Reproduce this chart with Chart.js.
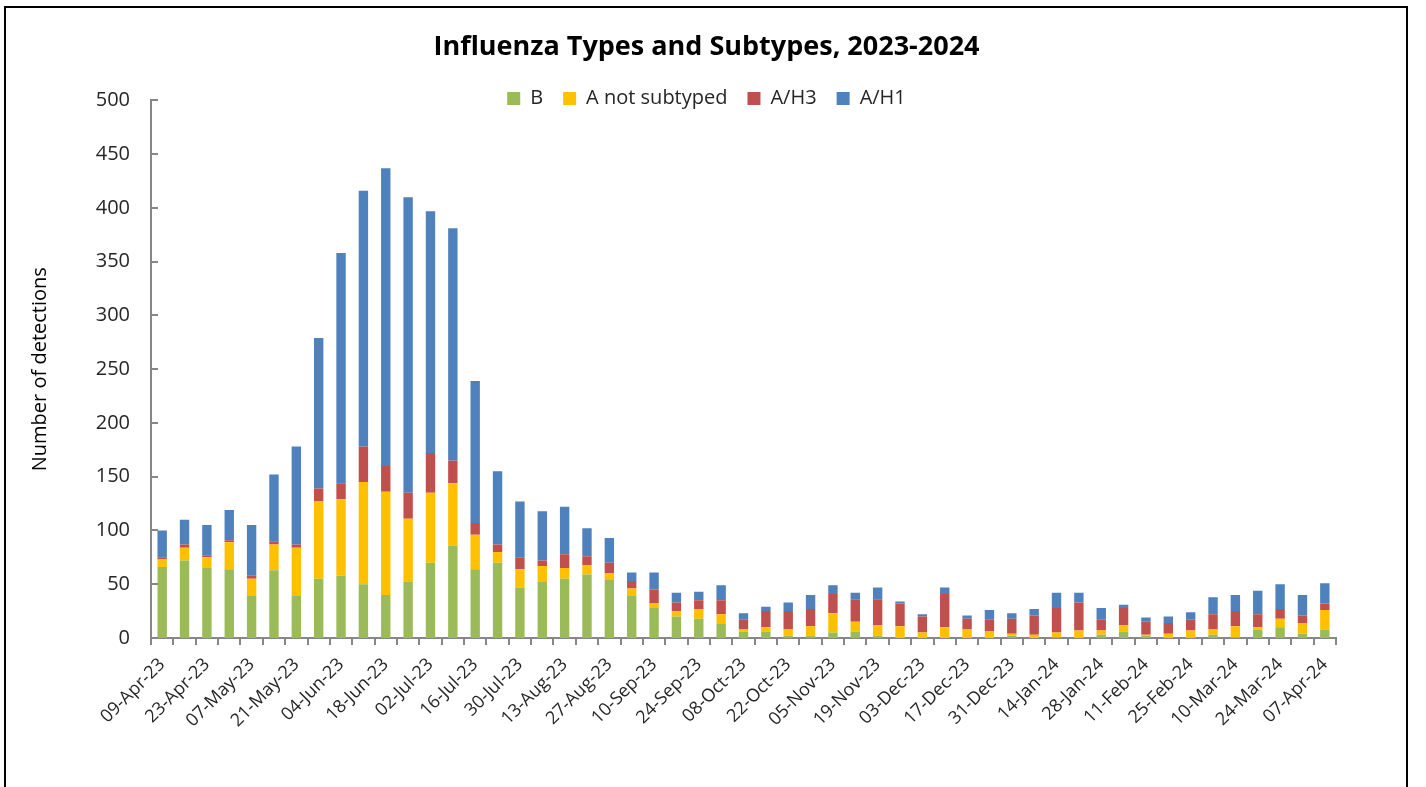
<!DOCTYPE html>
<html>
<head>
<meta charset="utf-8">
<title>Influenza Types and Subtypes, 2023-2024</title>
<script src="https://cdn.jsdelivr.net/npm/chart.js@4/dist/chart.umd.min.js"></script>
<style>
  html, body { margin: 0; padding: 0; background: #fff; }
  #wrap { position: relative; width: 1426px; height: 787px; overflow: hidden; }
  #frame {
    position: absolute; left: 4px; top: 6px; width: 1404px; height: 800px;
    border: 2px solid #000; box-sizing: border-box; pointer-events: none;
  }
  canvas { position: absolute; left: 0; top: 0; }
</style>
</head>
<body>
<div id="wrap">
  <canvas id="fluChart" width="1426" height="787"></canvas>
  <div id="frame"></div>
</div>
<script>
const weeks = [
  '09-Apr-23', '16-Apr-23', '23-Apr-23', '30-Apr-23', '07-May-23', '14-May-23', '21-May-23', '28-May-23',
  '04-Jun-23', '11-Jun-23', '18-Jun-23', '25-Jun-23', '02-Jul-23', '09-Jul-23', '16-Jul-23', '23-Jul-23',
  '30-Jul-23', '06-Aug-23', '13-Aug-23', '20-Aug-23', '27-Aug-23', '03-Sep-23', '10-Sep-23', '17-Sep-23',
  '24-Sep-23', '01-Oct-23', '08-Oct-23', '15-Oct-23', '22-Oct-23', '29-Oct-23', '05-Nov-23', '12-Nov-23',
  '19-Nov-23', '26-Nov-23', '03-Dec-23', '10-Dec-23', '17-Dec-23', '24-Dec-23', '31-Dec-23', '07-Jan-24',
  '14-Jan-24', '21-Jan-24', '28-Jan-24', '04-Feb-24', '11-Feb-24', '18-Feb-24', '25-Feb-24', '03-Mar-24',
  '10-Mar-24', '17-Mar-24', '24-Mar-24', '31-Mar-24', '07-Apr-24'
]

const fluB = [
  66, 72, 65, 64, 39, 63, 39, 55, 58, 50,
  40, 52, 70, 86, 64, 70, 47, 52, 55, 59,
  54, 39, 28, 20, 18, 13, 6, 6, 2, 2,
  5, 6, 2, 0, 0, 0, 0, 0, 2, 0,
  1, 0, 3, 6, 2, 0, 0, 3, 1, 8,
  10, 4, 8
]
const fluANotSubtyped = [
  7, 12, 10, 25, 16, 24, 45, 72, 71, 95,
  96, 59, 65, 58, 32, 10, 17, 15, 10, 9,
  6, 7, 4, 5, 9, 9, 2, 4, 6, 9,
  18, 9, 10, 11, 5, 10, 8, 6, 2, 3,
  4, 7, 4, 6, 1, 4, 7, 5, 10, 2,
  8, 10, 18
]
const fluAH3 = [
  2, 3, 2, 2, 3, 3, 3, 12, 15, 33,
  24, 24, 37, 21, 11, 7, 11, 5, 13, 8,
  10, 7, 13, 8, 8, 13, 9, 15, 17, 16,
  18, 21, 24, 21, 15, 31, 10, 11, 14, 18,
  23, 26, 10, 16, 12, 10, 10, 14, 14, 12,
  9, 7, 6
]
const fluAH1 = [
  25, 23, 28, 28, 47, 62, 91, 140, 214, 238,
  277, 275, 225, 216, 132, 68, 52, 46, 44, 26,
  23, 8, 16, 9, 8, 14, 6, 4, 8, 13,
  8, 6, 11, 2, 2, 6, 3, 9, 5, 6,
  14, 9, 11, 3, 4, 6, 7, 16, 15, 22,
  23, 19, 19
]
const yTicks = { min: 0, max: 500, step: 50 }

const axisGrey = '#878787'
const textColor = '#262626'
const legendTrimPx = 18

Chart.defaults.font.family = "'Open Sans', sans-serif"

// excel style tick marks that point into the plot on the value axis
const innerTicks = {
  id: 'innerTicks',
  afterDraw (chart) {
    const { ctx, chartArea, scales: { y } } = chart
    ctx.save()
    ctx.strokeStyle = axisGrey
    ctx.lineWidth = 2
    y.ticks.forEach((t, i) => {
      const py = Math.round(y.getPixelForTick(i))
      ctx.beginPath()
      ctx.moveTo(chartArea.left, py)
      ctx.lineTo(chartArea.left + 7, py)
      ctx.stroke()
    })
    ctx.restore()
  }
}

// the legend reserves more room than it needs below the row, pull the plot up under it
// (and give the clip back when it draws so the text is not cut)
const legendTrim = {
  id: 'legendTrim',
  beforeLayout (chart) {
    const lg = chart.legend
    if (lg && !lg._trimmed) {
      const fit = lg.fit
      const draw = lg.draw
      lg.fit = function () {
        fit.call(this)
        this.height -= legendTrimPx
      }
      lg.draw = function () {
        this.bottom += legendTrimPx
        this.height += legendTrimPx
        draw.call(this)
        this.bottom -= legendTrimPx
        this.height -= legendTrimPx
      }
      lg._trimmed = true
    }
  }
}

const ctx = document.getElementById('fluChart').getContext('2d')

// chart data
let chart_data = {
  labels: weeks,
  datasets: [
    { label: 'B', data: fluB, backgroundColor: '#9BBB59' },
    { label: 'A not subtyped', data: fluANotSubtyped, backgroundColor: '#FFC000' },
    { label: 'A/H3', data: fluAH3, backgroundColor: '#C0504D' },
    { label: 'A/H1', data: fluAH1, backgroundColor: '#4F81BD' }
  ].map(ds => ({ ...ds, borderWidth: 0, barPercentage: 0.42, categoryPercentage: 1 }))
}

// plugins
let options_plugins_chart = {
  title: {
    display: true,
    text: 'Influenza Types and Subtypes, 2023-2024',
    color: '#000',
    font: { size: 27, weight: 'bold' },
    padding: { top: 31, bottom: 5 }
  },
  legend: {
    position: 'top',
    labels: {
      color: textColor,
      font: { size: 20 },
      boxWidth: 13,
      boxHeight: 13,
      padding: 20
    }
  },
  tooltip: { enabled: false }
}

// scales
let scales_chart = {
  x: {
    stacked: true,
    afterFit: (scale) => { scale.height = 149 },
    grid: {
      display: true,
      drawOnChartArea: false,
      drawTicks: true,
      tickLength: 7,
      color: axisGrey,
      lineWidth: 2,
      offset: true
    },
    border: { color: axisGrey, width: 2 },
    ticks: {
      autoSkip: false,
      minRotation: 45,
      maxRotation: 45,
      padding: 9,
      color: textColor,
      font: { size: 18 },
      callback: function (value, index) {
        return index % 2 === 0 ? this.getLabelForValue(value) : ''
      }
    }
  },
  y: {
    stacked: true,
    min: yTicks.min,
    max: yTicks.max,
    afterFit: (scale) => { scale.width = 146 },
    grid: { display: false, drawTicks: false },
    border: { color: axisGrey, width: 2 },
    title: {
      display: true,
      text: 'Number of detections',
      color: '#000',
      font: { size: 20 },
      padding: { top: 23, bottom: 0 }
    },
    ticks: {
      stepSize: yTicks.step,
      padding: 21,
      color: textColor,
      font: { size: 20 }
    }
  },
  // empty axis on the right, only keeps the plot clear of the frame
  yRight: {
    position: 'right',
    afterFit: (scale) => { scale.width = 72 },
    grid: { display: false, drawTicks: false },
    border: { display: false },
    ticks: { display: false }
  }
}

const fluChart = new Chart(ctx, {
  type: 'bar',
  data: chart_data,
  options: {
    responsive: false,
    animation: false,
    devicePixelRatio: 1,
    layout: { padding: { left: 5, right: 18, top: 0, bottom: 0 } },
    plugins: options_plugins_chart,
    scales: scales_chart
  },
  plugins: [innerTicks, legendTrim]
})
</script>
</body>
</html>
